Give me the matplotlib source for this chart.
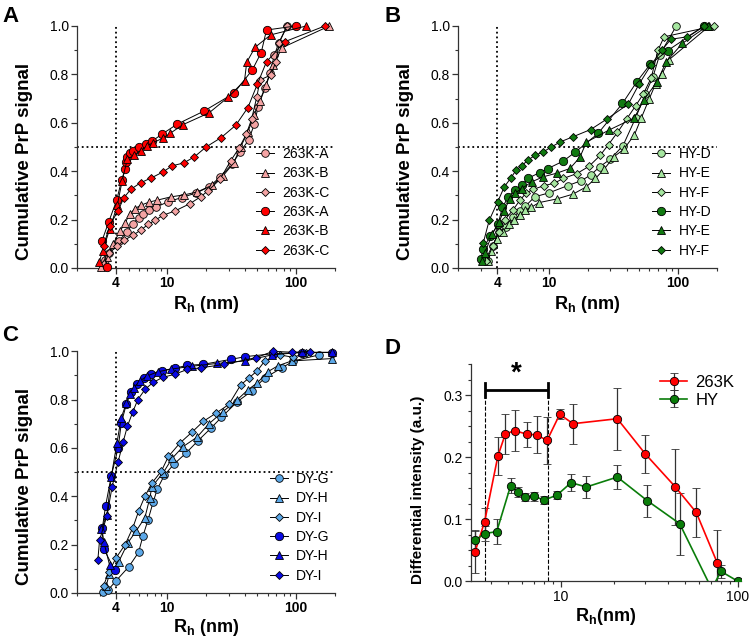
import numpy as np
import matplotlib
matplotlib.use("Agg")
import matplotlib.pyplot as plt
from matplotlib.ticker import FixedLocator, FixedFormatter, LogLocator, NullFormatter, MultipleLocator, FormatStrFormatter

plt.rcParams['font.family'] = ['Liberation Sans', 'DejaVu Sans']
plt.rcParams['mathtext.fontset'] = 'custom'
plt.rcParams['mathtext.rm'] = 'Liberation Sans'
plt.rcParams['mathtext.bf'] = 'Liberation Sans:bold'

# ---------------- panel A : 263K ----------------
a_light_A_x = [3.28, 3.54, 4.2, 4.85, 5.4, 6.0, 6.5, 7.2, 8.2, 10.1, 12.9, 16.8, 21, 25.5, 31.8, 36.8, 42.7, 47.3, 50.6, 57.4, 62.4, 67.8, 73.3, 85]
a_light_A_y = [0.032, 0.063, 0.112, 0.148, 0.183, 0.208, 0.225, 0.241, 0.252, 0.273, 0.291, 0.31, 0.335, 0.374, 0.429, 0.48, 0.528, 0.594, 0.666, 0.745, 0.807, 0.88, 0.931, 1.0]
a_light_B_x = [3.05, 3.4, 3.8, 4.3, 4.7, 5.1, 5.6, 6.2, 7.2, 8.3, 10.7, 13.5, 17, 22.3, 27, 32.7, 37, 42, 47, 52, 58.3, 66.4, 77.7, 181]
a_light_B_y = [0.005, 0.045, 0.1, 0.153, 0.186, 0.222, 0.245, 0.259, 0.272, 0.28, 0.294, 0.302, 0.314, 0.342, 0.38, 0.434, 0.5, 0.56, 0.63, 0.69, 0.754, 0.839, 0.91, 1.0]
a_light_C_x = [3.24, 3.55, 4.1, 4.6, 5.4, 6.2, 7.1, 8.0, 9.3, 11.5, 15, 18.1, 20.7, 25.6, 31, 36, 41, 45, 49.5, 52.4, 63.5, 69.5, 73.8, 85]
a_light_C_y = [0.018, 0.063, 0.09, 0.114, 0.135, 0.156, 0.18, 0.197, 0.218, 0.236, 0.266, 0.294, 0.319, 0.366, 0.443, 0.495, 0.553, 0.614, 0.708, 0.777, 0.797, 0.852, 0.931, 1.0]
a_dark_A_x = [3.39, 3.11, 3.50, 4.04, 4.42, 4.71, 4.8, 4.9, 5.15, 5.4, 6.0, 6.8, 7.6, 9.1, 11.9, 19.2, 32.7, 45.6, 53.5, 58.8, 99.4]
a_dark_A_y = [0.005, 0.112, 0.189, 0.279, 0.363, 0.41, 0.436, 0.457, 0.473, 0.484, 0.50, 0.512, 0.524, 0.553, 0.594, 0.648, 0.721, 0.818, 0.89, 0.983, 1.0]
a_dark_B_x = [2.96, 3.15, 3.56, 4.09, 4.46, 4.9, 5.56, 6.2, 7.0, 7.7, 9.3, 10.5, 13.2, 21.1, 29.7, 39.7, 41.3, 48.0, 63.3, 120]
a_dark_B_y = [0.025, 0.07, 0.159, 0.259, 0.36, 0.451, 0.465, 0.484, 0.505, 0.517, 0.537, 0.556, 0.592, 0.641, 0.706, 0.774, 0.85, 0.912, 0.963, 1.0]
a_dark_C_x = [3.2, 3.56, 4.12, 4.6, 5.2, 6.2, 7.5, 9.2, 10.9, 13.4, 16.2, 20.0, 26.2, 34.0, 42.2, 49.9, 58.8, 81.7, 167]
a_dark_C_y = [0.09, 0.174, 0.234, 0.29, 0.325, 0.352, 0.372, 0.396, 0.422, 0.434, 0.459, 0.5, 0.539, 0.59, 0.663, 0.759, 0.852, 0.935, 1.0]

# ---------------- panel B : HY ----------------
b_light_D_x = [3.4, 3.7, 4.1, 4.7, 5.3, 6.0, 6.6, 7.8, 10, 14, 17.9, 21.1, 24.8, 30, 37.5, 47, 56, 64, 72, 97]
b_light_D_y = [0.03, 0.09, 0.15, 0.17, 0.21, 0.235, 0.255, 0.294, 0.31, 0.34, 0.361, 0.384, 0.418, 0.45, 0.505, 0.62, 0.72, 0.79, 0.88, 1.0]
b_light_E_x = [3.4, 3.6, 4.0, 4.4, 4.9, 5.4, 6.0, 6.6, 7.3, 8.4, 11.5, 15.4, 19.5, 23, 27, 32, 38, 46, 52, 60, 67, 75, 85, 175]
b_light_E_y = [0.03, 0.07, 0.12, 0.15, 0.18, 0.2, 0.22, 0.24, 0.25, 0.27, 0.285, 0.305, 0.335, 0.37, 0.41, 0.46, 0.49, 0.55, 0.62, 0.7, 0.76, 0.8, 0.86, 1.0]
b_light_F_x = [3.3, 3.7, 4.1, 4.6, 5.3, 6.0, 6.7, 7.6, 9.2, 11, 13, 16.5, 20.5, 25, 29, 34, 40, 47, 54, 62, 70, 78, 190]
b_light_F_y = [0.03, 0.09, 0.15, 0.2, 0.24, 0.28, 0.31, 0.325, 0.34, 0.35, 0.37, 0.39, 0.42, 0.465, 0.51, 0.56, 0.615, 0.67, 0.72, 0.785, 0.9, 0.955, 1.0]
b_dark_D_x = [2.99, 3.1, 3.55, 4.06, 4.38, 4.88, 5.5, 6.2, 6.9, 8.5, 9.8, 12.9, 16.1, 24.1, 37.2, 48.1, 60.8, 83, 160]
b_dark_D_y = [0.036, 0.08, 0.132, 0.18, 0.25, 0.294, 0.324, 0.342, 0.37, 0.394, 0.41, 0.441, 0.479, 0.556, 0.68, 0.77, 0.841, 0.898, 1.0]
b_dark_E_x = [3.03, 3.2, 3.66, 4.12, 4.5, 5.0, 5.5, 6.2, 7.4, 9.1, 11.6, 14.6, 17.4, 19.6, 29.3, 45.9, 54.3, 69, 81, 108, 169]
b_dark_E_y = [0.029, 0.06, 0.14, 0.188, 0.236, 0.283, 0.31, 0.328, 0.356, 0.377, 0.392, 0.411, 0.457, 0.52, 0.57, 0.62, 0.694, 0.77, 0.852, 0.928, 1.0]
b_dark_F_x = [3.12, 3.47, 4.03, 4.54, 5.1, 5.6, 6.2, 6.9, 7.9, 9.1, 10.5, 12.3, 15.4, 21.1, 28.1, 41.3, 50, 62, 75, 88, 118, 160]
b_dark_F_y = [0.103, 0.197, 0.273, 0.335, 0.372, 0.404, 0.422, 0.446, 0.466, 0.48, 0.5, 0.521, 0.542, 0.572, 0.615, 0.677, 0.76, 0.84, 0.9, 0.945, 0.955, 1.0]

# ---------------- panel C : DY ----------------
c_light_G_x = [3.16, 3.46, 4.01, 5.03, 5.98, 6.47, 7.08, 7.78, 8.36, 9.5, 11.3, 13.9, 17.3, 21.7, 26.3, 35, 45, 57, 77.8, 95, 150]
c_light_G_y = [0.003, 0.012, 0.051, 0.109, 0.168, 0.236, 0.302, 0.378, 0.43, 0.488, 0.534, 0.578, 0.63, 0.681, 0.727, 0.792, 0.835, 0.89, 0.932, 0.96, 0.985]
c_light_H_x = [3.35, 3.55, 4.2, 4.95, 5.75, 6.7, 7.3, 7.6, 9.3, 10.9, 13.2, 17, 21, 27, 35, 42, 50, 60, 72, 92, 190]
c_light_H_y = [0.03, 0.077, 0.13, 0.208, 0.258, 0.312, 0.392, 0.44, 0.498, 0.557, 0.605, 0.645, 0.7, 0.75, 0.8, 0.84, 0.87, 0.915, 0.94, 0.96, 0.97]
c_light_I_x = [3.2, 3.5, 4.0, 4.7, 5.4, 6.0, 6.7, 7.6, 9.0, 10.2, 12.5, 15.5, 19, 24, 30, 37, 43, 50, 57, 75, 95, 120]
c_light_I_y = [0.03, 0.085, 0.145, 0.2, 0.27, 0.34, 0.4, 0.455, 0.505, 0.565, 0.62, 0.665, 0.71, 0.745, 0.78, 0.86, 0.89, 0.92, 0.96, 0.985, 0.975, 0.995]
c_dark_G_x = [3.9, 3.22, 3.13, 3.32, 3.67, 4.15, 4.39, 4.8, 5.2, 5.85, 6.6, 7.5, 9.1, 11.4, 14.3, 18.9, 31.4, 40.4, 66, 110, 190]
c_dark_G_y = [0.094, 0.182, 0.268, 0.361, 0.484, 0.599, 0.702, 0.78, 0.83, 0.865, 0.89, 0.907, 0.92, 0.93, 0.942, 0.946, 0.967, 0.978, 0.99, 0.995, 0.995]
c_dark_H_x = [3.56, 3.22, 3.07, 3.4, 3.67, 4.06, 4.39, 4.8, 5.1, 5.5, 6.1, 6.9, 8.4, 10.6, 15.4, 24.5, 40, 64.5, 110, 188]
c_dark_H_y = [0.116, 0.21, 0.263, 0.323, 0.48, 0.62, 0.725, 0.785, 0.823, 0.85, 0.876, 0.897, 0.915, 0.926, 0.938, 0.95, 0.96, 0.985, 0.996, 0.996]
c_dark_I_x = [2.89, 2.98, 3.40, 3.73, 4.14, 4.53, 4.9, 5.4, 5.9, 6.75, 7.8, 9.2, 11.4, 14.3, 18.4, 27.5, 49, 66, 93.5, 127]
c_dark_I_y = [0.137, 0.219, 0.32, 0.44, 0.54, 0.623, 0.69, 0.75, 0.8, 0.844, 0.872, 0.892, 0.905, 0.925, 0.932, 0.946, 0.974, 1.0, 0.996, 0.999]

# ---------------- panel D : differential intensity ----------------
d_263k_x = [3.27, 3.70, 4.40, 4.84, 5.46, 6.42, 7.28, 8.34, 9.83, 11.7, 20.8, 30.0, 44.3, 58.1, 76.3]
d_263k_y = [0.048, 0.096, 0.202, 0.237, 0.243, 0.237, 0.236, 0.227, 0.269, 0.254, 0.262, 0.205, 0.152, 0.111, 0.030]
d_263k_err = [0.034, 0.022, 0.030, 0.032, 0.033, 0.020, 0.030, 0.038, 0.008, 0.032, 0.050, 0.030, 0.062, 0.040, 0.052]
d_hy_x = [3.27, 3.70, 4.33, 5.19, 5.71, 6.26, 7.0, 8.05, 9.5, 11.4, 13.9, 20.8, 30.7, 46.8, 71, 80.2, 100]
d_hy_y = [0.066, 0.077, 0.080, 0.154, 0.144, 0.136, 0.137, 0.131, 0.139, 0.159, 0.152, 0.168, 0.130, 0.093, -0.012, 0.016, 0.0]
d_hy_err = [0.015, 0.012, 0.020, 0.012, 0.008, 0.007, 0.007, 0.007, 0.007, 0.014, 0.018, 0.020, 0.026, 0.050, 0.0, 0.010, 0.0]

pink, red = '#F4A3A3', '#FF0000'
lgreen, dgreen = '#A6E6A0', '#117A11'
lblue, dblue = '#5CA8E8', '#0A0AE6'

fig = plt.figure(figsize=(7.5, 6.37), dpi=100)
axA = fig.add_axes([0.103, 0.5793, 0.3437, 0.380])
axB = fig.add_axes([0.611, 0.5793, 0.345, 0.380])
axC = fig.add_axes([0.103, 0.0691, 0.3437, 0.3794])
axD = fig.add_axes([0.628, 0.0874, 0.360, 0.341])


def style_cum(ax, xpad=3):
    ax.set_xscale('log')
    ax.set_xlim(2, 200)
    ax.set_ylim(0, 1)
    ax.xaxis.set_major_locator(FixedLocator([4, 10, 100]))
    ax.xaxis.set_major_formatter(FixedFormatter(['4', '10', '100']))
    ax.xaxis.set_minor_locator(LogLocator(base=10, subs=np.arange(2, 10), numticks=20))
    ax.xaxis.set_minor_formatter(NullFormatter())
    ax.yaxis.set_major_locator(MultipleLocator(0.2))
    ax.yaxis.set_minor_locator(MultipleLocator(0.1))
    ax.yaxis.set_major_formatter(FormatStrFormatter('%.1f'))
    for s in ['top', 'right']:
        ax.spines[s].set_visible(False)
    for s in ['left', 'bottom']:
        ax.spines[s].set_color('#333333')
        ax.spines[s].set_linewidth(0.9)
    ax.tick_params(which='major', length=4, width=0.9, color='#333333', labelsize=10, pad=2)
    ax.tick_params(which='minor', length=2.5, width=0.8, color='#333333')
    for lab in ax.get_xticklabels():
        lab.set_fontweight('bold')
    ax.axvline(4, color='black', ls=':', lw=1.3, zorder=1)
    ax.axhline(0.5, color='black', ls=':', lw=1.3, zorder=1)
    ax.set_ylabel('Cumulative PrP signal', fontsize=13.5, fontweight='bold')
    ax.yaxis.set_label_coords(-0.17, 0.44)
    ax.set_xlabel(r'$\mathbf{R_h}$ (nm)', fontsize=13, fontweight='bold', labelpad=xpad)


def series(ax, x, y, marker, face, ms, label):
    ax.plot(x, y, color='black', lw=0.7, marker=marker, mfc=face, mec='black',
            mew=0.6, ms=ms, label=label, clip_on=False, zorder=3)


def legend_cum(ax):
    ax.legend(loc='lower right', bbox_to_anchor=(1.0, 0.02), frameon=False, fontsize=10,
              handlelength=1.3, handletextpad=0.6, labelspacing=0.38, borderaxespad=0)


# A
series(axA, a_light_A_x, a_light_A_y, 'o', pink, 5.5, '263K-A')
series(axA, a_light_B_x, a_light_B_y, '^', pink, 5.5, '263K-B')
series(axA, a_light_C_x, a_light_C_y, 'D', pink, 4, '263K-C')
series(axA, a_dark_A_x, a_dark_A_y, 'o', red, 6, '263K-A')
series(axA, a_dark_B_x, a_dark_B_y, '^', red, 5.5, '263K-B')
series(axA, a_dark_C_x, a_dark_C_y, 'D', red, 4, '263K-C')
style_cum(axA)
legend_cum(axA)

# B
series(axB, b_light_D_x, b_light_D_y, 'o', lgreen, 5.5, 'HY-D')
series(axB, b_light_E_x, b_light_E_y, '^', lgreen, 5.5, 'HY-E')
series(axB, b_light_F_x, b_light_F_y, 'D', lgreen, 4, 'HY-F')
series(axB, b_dark_D_x, b_dark_D_y, 'o', dgreen, 6, 'HY-D')
series(axB, b_dark_E_x, b_dark_E_y, '^', dgreen, 5.5, 'HY-E')
series(axB, b_dark_F_x, b_dark_F_y, 'D', dgreen, 4, 'HY-F')
style_cum(axB)
legend_cum(axB)

# C
series(axC, c_light_G_x, c_light_G_y, 'o', lblue, 5.5, 'DY-G')
series(axC, c_light_H_x, c_light_H_y, '^', lblue, 5.5, 'DY-H')
series(axC, c_light_I_x, c_light_I_y, 'D', lblue, 4, 'DY-I')
series(axC, c_dark_G_x, c_dark_G_y, 'o', dblue, 6, 'DY-G')
series(axC, c_dark_H_x, c_dark_H_y, '^', dblue, 5.5, 'DY-H')
series(axC, c_dark_I_x, c_dark_I_y, 'D', dblue, 4, 'DY-I')
style_cum(axC, xpad=1)
legend_cum(axC)

# D
axD.errorbar(d_263k_x, d_263k_y, yerr=d_263k_err, color=red, lw=1.2, marker='o', ms=6,
             mfc=red, mec='black', mew=0.6, ecolor='#333333', elinewidth=0.9,
             capsize=3, capthick=0.9, label='263K', zorder=3)
axD.errorbar(d_hy_x, d_hy_y, yerr=d_hy_err, color='#0A7D0A', lw=1.2, marker='o', ms=6,
             mfc='#0A7D0A', mec='black', mew=0.6, ecolor='#333333', elinewidth=0.9,
             capsize=3, capthick=0.9, label='HY', zorder=3)
axD.set_xscale('log')
axD.set_xlim(3.1, 104)
axD.set_ylim(0, 0.35)
axD.xaxis.set_major_locator(FixedLocator([10, 100]))
axD.xaxis.set_major_formatter(FixedFormatter(['10', '100']))
axD.xaxis.set_minor_locator(LogLocator(base=10, subs=np.arange(2, 10), numticks=20))
axD.xaxis.set_minor_formatter(NullFormatter())
axD.yaxis.set_major_locator(MultipleLocator(0.1))
axD.yaxis.set_minor_locator(MultipleLocator(0.025))
axD.yaxis.set_major_formatter(FormatStrFormatter('%.1f'))
for s in ['top', 'right']:
    axD.spines[s].set_visible(False)
for s in ['left', 'bottom']:
    axD.spines[s].set_color('#333333')
    axD.spines[s].set_linewidth(0.9)
axD.tick_params(which='major', length=4, width=0.9, color='#333333', labelsize=10, pad=2)
axD.tick_params(which='minor', length=2.5, width=0.8, color='#333333')
axD.set_ylabel('Differential intensity (a.u.)', fontsize=11, fontweight='bold')
axD.yaxis.set_label_coords(-0.17, 0.42)
axD.set_xlabel(r'$\mathbf{R_h}$(nm)', fontsize=13, fontweight='bold', labelpad=2)
axD.legend(loc='upper right', bbox_to_anchor=(1.0, 0.98), frameon=False, fontsize=12,
           handlelength=1.6, handletextpad=0.5, labelspacing=0.15, borderaxespad=0)

# significance bracket
axD.plot([3.70, 8.45], [0.308, 0.308], color='black', lw=2, solid_capstyle='butt')
axD.plot([3.70, 3.70], [0.297, 0.319], color='black', lw=2)
axD.plot([8.45, 8.45], [0.297, 0.319], color='black', lw=2)
axD.plot([3.70, 3.70], [0, 0.308], color='black', lw=0.8, ls='--')
axD.plot([8.45, 8.45], [0, 0.308], color='black', lw=0.8, ls='--')
axD.text(5.6, 0.314, '*', fontsize=20, fontweight='bold', ha='center', va='bottom')

# panel letters
fig.text(0.003, 0.99, 'A', fontsize=16, fontweight='bold', va='top')
fig.text(0.513, 0.99, 'B', fontsize=16, fontweight='bold', va='top')
fig.text(0.003, 0.49, 'C', fontsize=16, fontweight='bold', va='top')
fig.text(0.513, 0.47, 'D', fontsize=16, fontweight='bold', va='top')

fig.savefig('out.png', dpi=100)
